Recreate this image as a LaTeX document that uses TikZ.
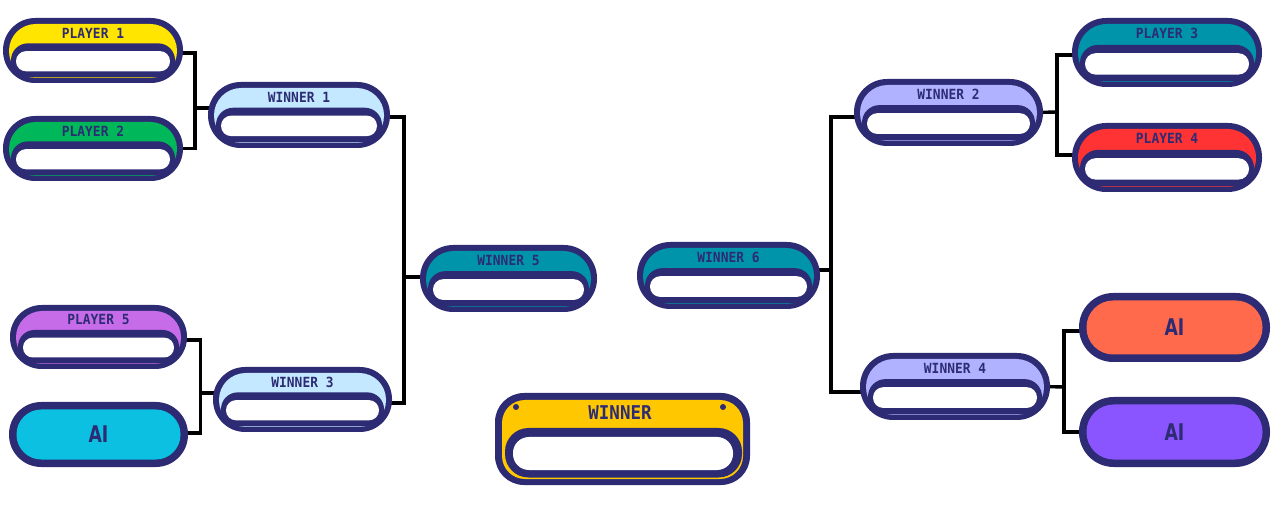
\documentclass[tikz,border=0pt]{standalone}
\usepackage{fontspec}
\newfontfamily\slotfont[FakeStretch=0.92]{DejaVu Sans Mono}
\newfontfamily\aifont[FakeStretch=0.75]{DejaVu Sans}
\usetikzlibrary{calc}
\pgfdeclarelayer{bg}
\pgfsetlayers{bg,main}
\definecolor{navy}{HTML}{2D2B73}
\definecolor{pyellow}{HTML}{FFE500}
\definecolor{pgreen}{HTML}{00B85A}
\definecolor{porchid}{HTML}{C66CE8}
\definecolor{pcyan}{HTML}{0BC0E0}
\definecolor{wlight}{HTML}{C4E8FF}
\definecolor{wteal}{HTML}{0094AA}
\definecolor{wlav}{HTML}{B0B2FF}
\definecolor{pred}{HTML}{FF3333}
\definecolor{pcoral}{HTML}{FF6A4D}
\definecolor{ppurple}{HTML}{8A55FF}
\definecolor{wgold}{HTML}{FFC700}

\tikzset{
  slotlabel/.style={text=navy,inner sep=0pt,font=\slotfont\bfseries\fontsize{14}{14}\selectfont},
  ailabel/.style={text=navy,inner sep=0pt,font=\aifont\bfseries\fontsize{23}{23}\selectfont},
  slotshape/.style={rectangle,inner sep=0pt,draw=none},
  link/.style={line width=3.4pt,black},
}

% name, x0, y0, x1, y1, colour, label
\newcommand\slot[7]{%
  \pgfmathsetmacro\sH{#5-#3}
  \pgfmathsetmacro\sA{(#5-#3)/2.02}
  \pgfmathsetmacro\sB{(#5-#3-11)/2.02}
  \pgfmathsetmacro\sC{(0.61*(#5-#3)-5.7)/2.02}
  \pgfmathsetmacro\sD{0.31*(#5-#3)/2.02}
  \fill[navy,rounded corners=\sA pt] (#2,#3) rectangle (#4,#5);
  \fill[#6,rounded corners=\sB pt] (#2+6,#3+6) rectangle (#4-6,#5-5);
  \fill[navy,rounded corners=\sC pt] (#2+8,#3+0.39*\sH) rectangle (#4-8,#5-5.7);
  \fill[white,rounded corners=\sD pt] (#2+13,#3+0.51*\sH) rectangle (#4-13,#5-0.18*\sH);
  \node[slotlabel] at ({(#2+#4)/2},#3+0.23*\sH) {#7};
  \node[slotshape,minimum width={(#4-#2)*1pt},minimum height={(#5-#3)*1pt}] (#1) at ({(#2+#4)/2},{(#3+#5)/2}) {};
}

% name, x0, y0, x1, y1, colour
\newcommand\aislot[6]{%
  \pgfmathsetmacro\sA{(#5-#3)/2.02}
  \pgfmathsetmacro\sB{(#5-#3-15)/2.02}
  \fill[navy,rounded corners=\sA pt] (#2,#3) rectangle (#4,#5);
  \fill[#6,rounded corners=\sB pt] (#2+7.5,#3+7.5) rectangle (#4-7.5,#5-7.5);
  \node[slotshape,minimum width={(#4-#2)*1pt},minimum height={(#5-#3)*1pt}] (#1) at ({(#2+#4)/2},{(#3+#5)/2}) {};
  \node[ailabel] at (#1.center) {AI};
}

\begin{document}
\begin{tikzpicture}[x=1pt,y=-1pt]
  \useasboundingbox (0,0) rectangle (1280,518);
  % left half
  \slot{p1}{3}{18}{183}{83}{pyellow}{PLAYER 1}
  \slot{p2}{3}{116}{183}{181}{pgreen}{PLAYER 2}
  \slot{p5}{10}{305}{187}{369}{porchid}{PLAYER 5}
  \aislot{ai1}{9}{402}{188}{467}{pcyan}
  \slot{w1}{208}{82}{390}{148}{wlight}{WINNER 1}
  \slot{w3}{213}{367}{392}{432}{wlight}{WINNER 3}
  \slot{w5}{420}{245}{597}{312}{wteal}{WINNER 5}
  % right half
  \slot{w6}{637}{242}{820}{309}{wteal}{WINNER 6}
  \slot{w2}{854}{79}{1043}{146}{wlav}{WINNER 2}
  \slot{w4}{860}{353}{1050}{420}{wlav}{WINNER 4}
  \slot{p3}{1072}{18}{1262}{87}{wteal}{PLAYER 3}
  \slot{p4}{1072}{123}{1262}{192}{pred}{PLAYER 4}
  \aislot{ai2}{1079}{293}{1270}{362}{pcoral}
  \aislot{ai3}{1079}{397}{1270}{467}{ppurple}
  % final
  \fill[navy,rounded corners=29pt] (495,393) rectangle (750,485);
  \fill[wgold,rounded corners=23pt] (502,400) rectangle (743,479);
  \fill[navy,rounded corners=23.5pt] (505,428) rectangle (742,477.5);
  \fill[white,rounded corners=16pt] (513,437) rectangle (733,470);
  \fill[navy] (516,407) circle (3);
  \fill[navy] (723,407) circle (3);
  \node[slotshape,minimum width=255pt,minimum height=92pt] (champ) at (622.5,439) {};
  \node[text=navy,inner sep=0pt,font=\slotfont\bfseries\fontsize{19}{19}\selectfont] at (620,413) {WINNER};
  % brackets
  \coordinate (jA) at (195,108);
  \coordinate (jB) at (404,277);
  \coordinate (jC) at (200.5,393);
  \coordinate (jD) at (831,270);
  \coordinate (jE) at (1057,112);
  \coordinate (jF) at (1064,387);
  \begin{pgfonlayer}{bg}
    \draw[link] ([xshift=-8,yshift=-2.5]p1.east) -| (jA) |- ([xshift=-8]p2.east);
    \draw[link] (jA) -- ([xshift=8,yshift=7]w1.west);
    \draw[link] ([xshift=-8,yshift=-2]w1.east) -| (jB) |- ([xshift=-8,yshift=-3.5]w3.east);
    \draw[link] (jB) -- ([xshift=8,yshift=1.5]w5.west);
    \draw[link] ([xshift=-8,yshift=-3]p5.east) -| (jC) |- ([xshift=-8,yshift=1.5]ai1.east);
    \draw[link] (jC) -- ([xshift=8,yshift=6.5]w3.west);
    \draw[link] ([xshift=8,yshift=-4.5]w2.west) -| (jD) |- ([xshift=8,yshift=-5.5]w4.west);
    \draw[link] (jD) -- ([xshift=-8,yshift=5.5]w6.east);
    \draw[link] ([xshift=8,yshift=-2.5]p3.west) -| (jE) |- ([xshift=8,yshift=2.5]p4.west);
    \draw[link] (jE) -- ([xshift=-8]w2.east);
    \draw[link] ([xshift=8,yshift=-3.5]ai2.west) -| (jF) |- ([xshift=8]ai3.west);
    \draw[link] (jF) -- ([xshift=-8]w4.east);
  \end{pgfonlayer}
\end{tikzpicture}
\end{document}
